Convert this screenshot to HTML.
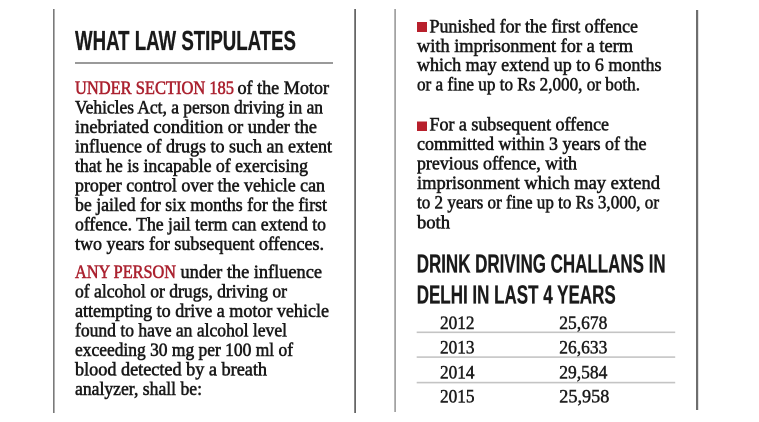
<!DOCTYPE html>
<html>
<head>
<meta charset="utf-8">
<style>
html,body{margin:0;padding:0;background:#fff;}
svg{display:block;}
.b{font-family:"Liberation Serif",serif;font-size:18.5px;fill:#1a1a1a;stroke:#1a1a1a;stroke-width:0.6px;}
.r{fill:#ab2230;stroke:#ab2230;}
.h{font-family:"Liberation Sans",sans-serif;font-weight:bold;fill:#1a1a1a;stroke:#1a1a1a;stroke-width:0.3px;}
.t{font-family:"Liberation Serif",serif;font-size:18.5px;fill:#1c1c1c;stroke:#1c1c1c;stroke-width:0.5px;}
</style>
</head>
<body>
<svg width="759" height="422" viewBox="0 0 759 422" xmlns="http://www.w3.org/2000/svg">
<rect width="759" height="422" fill="#fff"/>
<rect x="53" y="9" width="1.6" height="404" fill="#7a7a7a"/>
<rect x="354.3" y="9" width="1.6" height="404" fill="#555"/>
<rect x="394.3" y="9" width="1.6" height="403" fill="#999"/>
<rect x="696" y="10" width="2.2" height="400" fill="#6e6e6e"/>

<text class="h" x="75" y="50" font-size="28" textLength="221" lengthAdjust="spacingAndGlyphs">WHAT LAW STIPULATES</text>
<rect x="75" y="62" width="258" height="2" fill="#9a9a9a"/>

<text class="b r" x="75" y="94" textLength="159" lengthAdjust="spacingAndGlyphs">UNDER SECTION 185</text>
<text class="b" x="237.5" y="94" textLength="91.5" lengthAdjust="spacingAndGlyphs">of the Motor</text>
<text class="b" x="75" y="113.5" textLength="248" lengthAdjust="spacingAndGlyphs">Vehicles Act, a person driving in an</text>
<text class="b" x="75" y="133" textLength="242" lengthAdjust="spacingAndGlyphs">inebriated condition or under the</text>
<text class="b" x="75" y="152.5" textLength="257" lengthAdjust="spacingAndGlyphs">influence of drugs to such an extent</text>
<text class="b" x="75" y="172" textLength="233" lengthAdjust="spacingAndGlyphs">that he is incapable of exercising</text>
<text class="b" x="75" y="191.5" textLength="250" lengthAdjust="spacingAndGlyphs">proper control over the vehicle can</text>
<text class="b" x="75" y="211" textLength="252" lengthAdjust="spacingAndGlyphs">be jailed for six months for the first</text>
<text class="b" x="75" y="230.5" textLength="251" lengthAdjust="spacingAndGlyphs">offence. The jail term can extend to</text>
<text class="b" x="75" y="250" textLength="249" lengthAdjust="spacingAndGlyphs">two years for subsequent offences.</text>

<text class="b r" x="75" y="278" textLength="101" lengthAdjust="spacingAndGlyphs">ANY PERSON</text>
<text class="b" x="180.5" y="278" textLength="141.5" lengthAdjust="spacingAndGlyphs">under the influence</text>
<text class="b" x="75" y="297.5" textLength="212" lengthAdjust="spacingAndGlyphs">of alcohol or drugs, driving or</text>
<text class="b" x="75" y="317" textLength="254" lengthAdjust="spacingAndGlyphs">attempting to drive a motor vehicle</text>
<text class="b" x="75" y="336.5" textLength="212" lengthAdjust="spacingAndGlyphs">found to have an alcohol level</text>
<text class="b" x="75" y="356" textLength="218" lengthAdjust="spacingAndGlyphs">exceeding 30 mg per 100 ml of</text>
<text class="b" x="75" y="375.5" textLength="192" lengthAdjust="spacingAndGlyphs">blood detected by a breath</text>
<text class="b" x="75" y="395" textLength="127" lengthAdjust="spacingAndGlyphs">analyzer, shall be:</text>

<rect x="417" y="22" width="10" height="10" fill="#b8202c"/>
<text class="b" x="429.5" y="32.3" textLength="208.5" lengthAdjust="spacingAndGlyphs">Punished for the first offence</text>
<text class="b" x="417" y="51.8" textLength="216" lengthAdjust="spacingAndGlyphs">with imprisonment for a term</text>
<text class="b" x="417" y="71.2" textLength="244.5" lengthAdjust="spacingAndGlyphs">which may extend up to 6 months</text>
<text class="b" x="417" y="90.7" textLength="223" lengthAdjust="spacingAndGlyphs">or a fine up to Rs 2,000, or both.</text>

<rect x="417" y="121.5" width="10" height="9.5" fill="#b8202c"/>
<text class="b" x="429.5" y="130.7" textLength="179.5" lengthAdjust="spacingAndGlyphs">For a subsequent offence</text>
<text class="b" x="417" y="150" textLength="229.5" lengthAdjust="spacingAndGlyphs">committed within 3 years of the</text>
<text class="b" x="417" y="169.4" textLength="160" lengthAdjust="spacingAndGlyphs">previous offence, with</text>
<text class="b" x="417" y="189" textLength="243" lengthAdjust="spacingAndGlyphs">imprisonment which may extend</text>
<text class="b" x="417" y="208.4" textLength="242" lengthAdjust="spacingAndGlyphs">to 2 years or fine up to Rs 3,000, or</text>
<text class="b" x="417" y="228.3" textLength="33" lengthAdjust="spacingAndGlyphs">both</text>

<text class="h" x="416.7" y="272.7" font-size="26" textLength="249" lengthAdjust="spacingAndGlyphs">DRINK DRIVING CHALLANS IN</text>
<text class="h" x="416.7" y="303.3" font-size="26" textLength="199" lengthAdjust="spacingAndGlyphs">DELHI IN LAST 4 YEARS</text>

<text class="t" x="440" y="329" textLength="34.5" lengthAdjust="spacingAndGlyphs">2012</text>
<text class="t" x="559.3" y="329" textLength="48" lengthAdjust="spacingAndGlyphs">25,678</text>
<rect x="416.7" y="331.5" width="258.5" height="1.6" fill="#c4c4c4"/>
<text class="t" x="440" y="353.5" textLength="34.5" lengthAdjust="spacingAndGlyphs">2013</text>
<text class="t" x="559.3" y="353.5" textLength="48" lengthAdjust="spacingAndGlyphs">26,633</text>
<rect x="416.7" y="356.3" width="258.5" height="1.6" fill="#c4c4c4"/>
<text class="t" x="440" y="378.4" textLength="34.5" lengthAdjust="spacingAndGlyphs">2014</text>
<text class="t" x="559.3" y="378.4" textLength="48" lengthAdjust="spacingAndGlyphs">29,584</text>
<rect x="416.7" y="381.8" width="258.5" height="1.6" fill="#c4c4c4"/>
<text class="t" x="440" y="402.7" textLength="34.5" lengthAdjust="spacingAndGlyphs">2015</text>
<text class="t" x="559.3" y="402.7" textLength="50" lengthAdjust="spacingAndGlyphs">25,958</text>
</svg>
</body>
</html>
